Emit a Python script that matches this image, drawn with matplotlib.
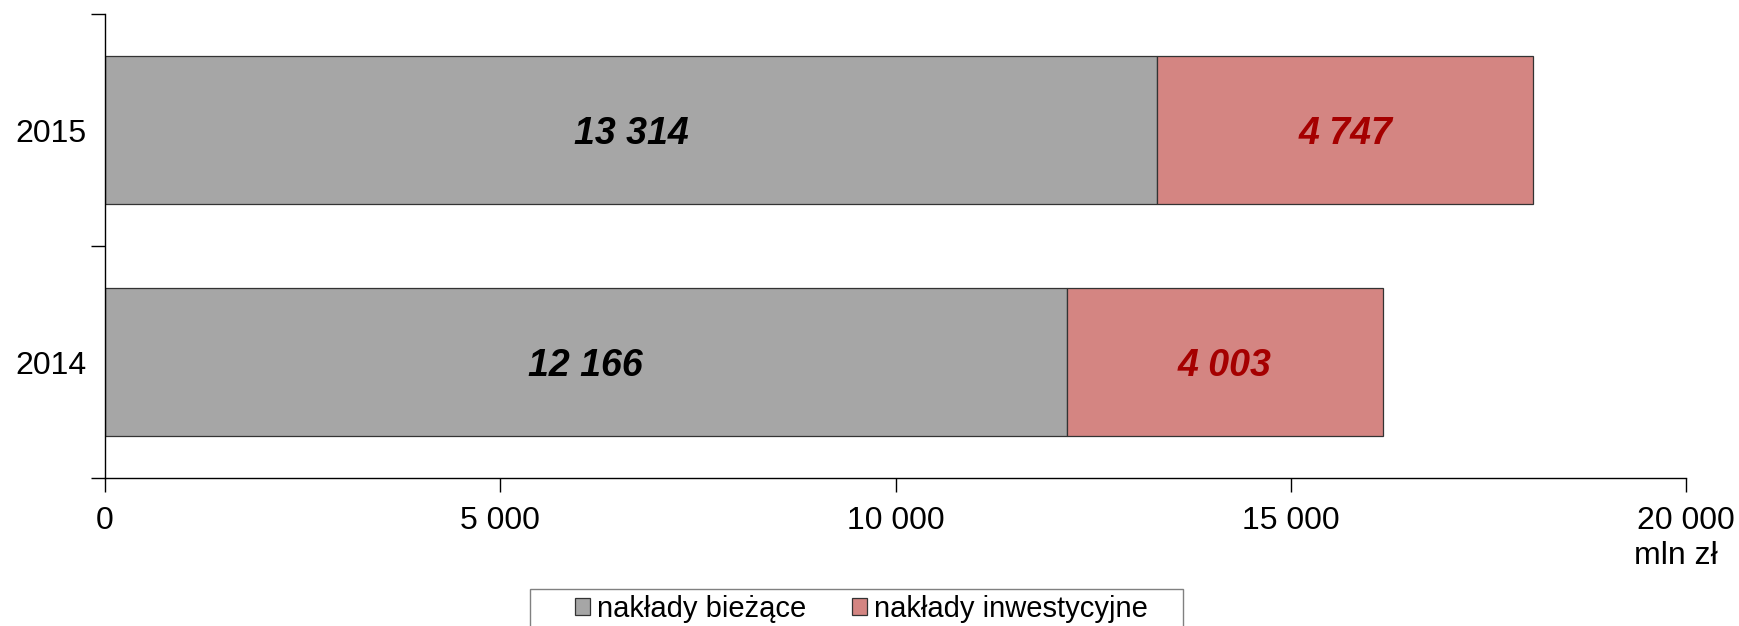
import matplotlib

matplotlib.use("Agg")
import matplotlib.pyplot as plt
from matplotlib.patches import Rectangle
from matplotlib.ticker import FuncFormatter

plt.rcParams["font.family"] = ["Liberation Sans", "DejaVu Sans"]

years = ["2014", "2015"]
biezace = [12166, 13314]
inwestycyjne = [4003, 4747]
series_names = ["nakłady bieżące", "nakłady inwestycyjne"]
x_ticks = [0, 5000, 10000, 15000, 20000]
unit_label = "mln zł"

GREY = "#a6a6a6"
PINK = "#d48582"
DARK_RED = "#a50000"

fig = plt.figure(figsize=(17.4, 6.26), dpi=100)
ax = fig.add_axes([105 / 1740, 1 - 478 / 626, 1581 / 1740, 464 / 626])

pos = list(range(len(years)))
h = 0.64
ax.barh(pos, biezace, height=h, color=GREY, edgecolor="#333333", lw=0.9,
        label=series_names[0])
ax.barh(pos, inwestycyjne, left=biezace, height=h, color=PINK,
        edgecolor="#333333", lw=0.9, label=series_names[1])


def fmt(v):
    return f"{v:,.0f}".replace(",", " ")


for p, b, i in zip(pos, biezace, inwestycyjne):
    ax.text(b / 2, p, fmt(b), ha="center", va="center_baseline", fontsize=27,
            fontweight="bold", fontstyle="italic", color="black")
    ax.text(b + i / 2, p, fmt(i), ha="center", va="center_baseline", fontsize=27,
            fontweight="bold", fontstyle="italic", color=DARK_RED)

ax.set_xlim(0, 20000)
ax.set_ylim(-0.5, 1.5)
ax.set_xticks(x_ticks)
ax.xaxis.set_major_formatter(FuncFormatter(lambda v, _: fmt(v)))
ax.set_yticks([-0.5, 0.5, 1.5])
ax.set_yticklabels([])
ax.set_yticks(pos, minor=True)
ax.set_yticklabels(years, minor=True)
ax.tick_params(axis="y", which="minor", length=0, pad=13, labelsize=23)
ax.tick_params(axis="y", which="major", length=10, width=1)
ax.tick_params(axis="x", length=10, width=1, pad=10, labelsize=23)
for s in ("top", "right"):
    ax.spines[s].set_visible(False)
ax.spines["left"].set_linewidth(1)
ax.spines["bottom"].set_linewidth(1)

fig.text(1718 / 1740, 1 - 556 / 626, unit_label, ha="right", va="center",
         fontsize=23)

# legend box runs off the bottom edge, so draw the frame by hand
fig.patches.append(Rectangle((530 / 1740, -0.05), 653 / 1740, 0.05 + 1 - 589 / 626,
                             transform=fig.transFigure, fill=False,
                             edgecolor="#808080", lw=1))
leg = fig.legend(loc="center left", bbox_to_anchor=(575 / 1740, 1 - 609 / 626),
                 ncol=2, fontsize=21, frameon=False,
                 handlelength=0.52, handleheight=0.52, handletextpad=0.25,
                 columnspacing=1.55, borderpad=0, borderaxespad=0)

fig.savefig("out.png", dpi=100)
